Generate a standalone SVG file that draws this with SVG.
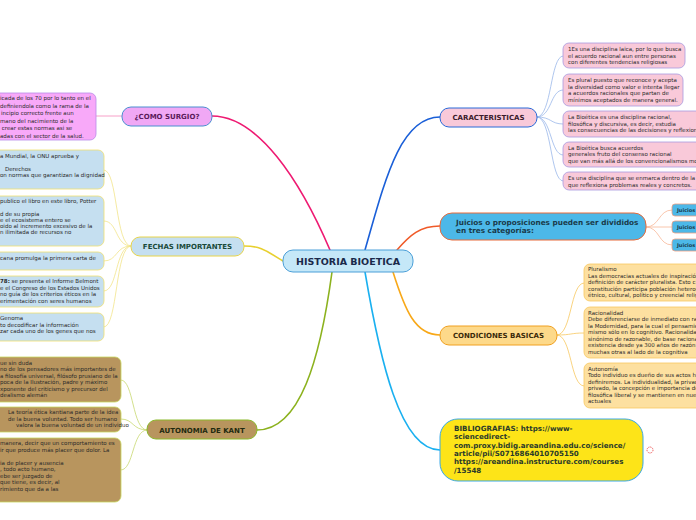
<svg xmlns="http://www.w3.org/2000/svg" width="696" height="520" viewBox="0 0 696 520">
<style>
text{font-family:"DejaVu Sans","Liberation Sans",sans-serif;}
.lt{font-size:5.5px;fill:#2a2a2a;}
.nb{font-weight:bold;font-size:7px;}
.c{fill:none;stroke-linecap:round;}
</style>
<rect x="0" y="0" width="696" height="520" fill="#ffffff"/>
<g id="connectors">
<path class="c" d="M212,116 C258,116 300,180 330,250" stroke="#ee1a72" stroke-width="1.6"/>
<path class="c" d="M365,250 C385,180 400,117 440,117" stroke="#1a5fd8" stroke-width="1.6"/>
<path class="c" d="M397,250 C410,235 420,226 440,226" stroke="#f05a28" stroke-width="1.6"/>
<path class="c" d="M283,261 C265,250 260,246 244,246" stroke="#e8d030" stroke-width="1.6"/>
<path class="c" d="M332,272 C320,360 300,430 257,430" stroke="#8cb21e" stroke-width="1.6"/>
<path class="c" d="M365,272 C380,360 400,450 440,450" stroke="#1ab0f0" stroke-width="1.6"/>
<path class="c" d="M393,272 C405,310 415,335 440,335" stroke="#f8a818" stroke-width="1.6"/>
<path class="c" d="M96,116 L122,116" stroke="#f7a0c8" stroke-width="1"/>
<g stroke="#f3e48a" stroke-width="0.8">
<path class="c" d="M131,246 C115,246 118,170 104,170"/>
<path class="c" d="M131,246 C115,246 118,221 104,221"/>
<path class="c" d="M131,246 C115,246 118,261 104,261"/>
<path class="c" d="M131,246 C115,246 118,291 104,291"/>
<path class="c" d="M131,246 C115,246 118,327 104,327"/>
</g>
<g stroke="#c8d870" stroke-width="0.8">
<path class="c" d="M147,430 C132,430 134,380 121,380"/>
<path class="c" d="M147,430 C132,430 134,419 121,419"/>
<path class="c" d="M147,430 C132,430 134,470 121,470"/>
</g>
<g stroke="#9ab8ea" stroke-width="0.8">
<path class="c" d="M537,117 C552,117 550,56 563,56"/>
<path class="c" d="M537,117 C552,117 550,90 563,90"/>
<path class="c" d="M537,117 C552,117 550,124 563,124"/>
<path class="c" d="M537,117 C552,117 550,155 563,155"/>
<path class="c" d="M537,117 C552,117 550,181 563,181"/>
</g>
<g stroke="#f8b898" stroke-width="0.8">
<path class="c" d="M646,227 C660,227 658,210 672,210"/>
<path class="c" d="M646,227 L672,227"/>
<path class="c" d="M646,227 C660,227 658,245 672,245"/>
</g>
<g stroke="#f8c860" stroke-width="0.8">
<path class="c" d="M557,335 C572,335 570,283 584,283"/>
<path class="c" d="M557,335 C572,335 570,333 584,333"/>
<path class="c" d="M557,335 C572,335 570,386 584,386"/>
</g>
</g>
<g id="central">
<rect x="283" y="250" width="130" height="22" rx="10" fill="#c5e8f8" stroke="#4a9fd8" stroke-width="1"/>
<text x="348" y="264.5" text-anchor="middle" font-weight="bold" font-size="9.5" fill="#1a2a4a">HISTORIA BIOETICA</text>
</g>
<g id="como-surgio">
<rect x="122" y="107" width="90" height="19" rx="9" fill="#f0a8f5" stroke="#4a8fd0" stroke-width="1"/>
<text x="167" y="119" text-anchor="middle" class="nb" fill="#5a1a5a">¿COMO SURGIO?</text>
</g>
<g id="como-surgio-leaf">
<rect x="-40" y="93" width="136" height="47" rx="6" fill="#f8a9f9" stroke="#b88ae8" stroke-width="0.8"/>
<text class="lt"><tspan x="0" y="100">icada de los 70 por lo tanto en el</tspan><tspan x="0" y="107.5">definiendola como la rama de la</tspan><tspan x="1" y="115">incipio correcto frente aun</tspan><tspan x="0" y="122.5">mano del nacimiento de la</tspan><tspan x="0" y="130"> crear estas normas asi se</tspan><tspan x="0" y="137.5">adas con el sector de la salud.</tspan></text>
</g>
<g id="fechas">
<rect x="131" y="237" width="113" height="19" rx="9" fill="#c5dff0" stroke="#e8d44a" stroke-width="1"/>
<text x="187.5" y="249" text-anchor="middle" class="nb" fill="#1a4a3a">FECHAS IMPORTANTES</text>
</g>
<g id="fechas-1">
<rect x="-40" y="150" width="144" height="39" rx="6" fill="#c5dff0" stroke="#f0e070" stroke-width="0.8"/>
<text class="lt"><tspan x="0" y="157.5">a Mundial, la ONU aprueba y</tspan><tspan x="5" y="170.5">Derechos</tspan><tspan x="0" y="177">on normas que garantizan la dignidad</tspan></text>
</g>
<g id="fechas-2">
<rect x="-40" y="196" width="144" height="50" rx="6" fill="#c5dff0" stroke="#f0e070" stroke-width="0.8"/>
<text class="lt"><tspan x="0" y="203">publico el libro en este libro, Potter</tspan><tspan x="0" y="215.5">d de su propia</tspan><tspan x="0" y="221.5">e el ecosistema entero se</tspan><tspan x="0" y="227.5">oido al incremento excesivo de la</tspan><tspan x="0" y="233.5">n ilimitada de recursos no</tspan></text>
</g>
<g id="fechas-3">
<rect x="-40" y="252" width="144" height="18" rx="6" fill="#c5dff0" stroke="#f0e070" stroke-width="0.8"/>
<text class="lt"><tspan x="0" y="260">cana promulga la primera carta de</tspan></text>
</g>
<g id="fechas-4">
<rect x="-40" y="276" width="144" height="31" rx="6" fill="#c5dff0" stroke="#f0e070" stroke-width="0.8"/>
<text class="lt"><tspan x="0" y="283" font-weight="bold">78:</tspan><tspan> se presenta el Informe Belmont</tspan><tspan x="0" y="289.5">e el Congreso de los Estados Unidos</tspan><tspan x="0" y="296">no guía de los criterios éticos en la</tspan><tspan x="0" y="302.5">erimentación con seres humanos</tspan></text>
</g>
<g id="fechas-5">
<rect x="-40" y="313" width="144" height="28" rx="6" fill="#c5dff0" stroke="#f0e070" stroke-width="0.8"/>
<text class="lt"><tspan x="0" y="320">Genoma</tspan><tspan x="0" y="326.5">to decodificar la información</tspan><tspan x="0" y="333">zar cada uno de los genes que nos</tspan></text>
</g>
<g id="kant">
<rect x="147" y="420" width="110" height="19" rx="9" fill="#b8955e" stroke="#8bb82a" stroke-width="1"/>
<text x="202" y="432.5" text-anchor="middle" class="nb" fill="#1f2a10">AUTONOMIA DE KANT</text>
</g>
<g id="kant-1">
<rect x="-40" y="357" width="161" height="45" rx="6" fill="#b8955e" stroke="#c8d860" stroke-width="0.8"/>
<text class="lt" fill="#2a1a0a"><tspan x="0" y="364.5">ue sin duda</tspan><tspan x="0" y="371">no de los pensadores más importantes de</tspan><tspan x="0" y="377.5">a filosofía universal, filósofo prusiano de la</tspan><tspan x="0" y="384">poca de la Ilustración, padre y máximo</tspan><tspan x="0" y="390.5">xponente del criticismo y precursor del</tspan><tspan x="0" y="397">dealismo alemán</tspan></text>
</g>
<g id="kant-2">
<rect x="-40" y="407" width="161" height="25" rx="6" fill="#b8955e" stroke="#c8d860" stroke-width="0.8"/>
<text class="lt" fill="#2a1a0a"><tspan x="8" y="414">La teoría ética kantiana parte de la idea</tspan><tspan x="8" y="420.5">de la buena voluntad. Todo ser humano</tspan><tspan x="16" y="427">valora la buena voluntad de un individuo</tspan></text>
</g>
<g id="kant-3">
<rect x="-40" y="438" width="161" height="64" rx="6" fill="#b8955e" stroke="#c8d860" stroke-width="0.8"/>
<text class="lt" fill="#2a1a0a"><tspan x="0" y="445">manera, decir que un comportamiento es</tspan><tspan x="0" y="451.5">ir que produce más placer que dolor. La</tspan><tspan x="0" y="464.5">ia de placer y ausencia</tspan><tspan x="0" y="471">, todo acto humano,</tspan><tspan x="0" y="477.5">ebe ser juzgado de</tspan><tspan x="0" y="484">que tiene, es decir, al</tspan><tspan x="0" y="490.5">rimiento que da a las</tspan></text>
</g>
<g id="caracteristicas">
<rect x="440" y="108" width="97" height="19" rx="9" fill="#f9c9d9" stroke="#2a6ad8" stroke-width="1"/>
<text x="488.5" y="120" text-anchor="middle" class="nb" fill="#3a1a2a">CARACTERISTICAS</text>
</g>
<g id="car-1">
<rect x="563" y="43" width="122" height="25" rx="6" fill="#f9c9d9" stroke="#a89ae0" stroke-width="0.8"/>
<text class="lt"><tspan x="568" y="51">1Es una disciplina laica, por lo que busca</tspan><tspan x="568" y="57.5">el acuerdo racional aun entre personas</tspan><tspan x="568" y="64">con diferentes tendencias religiosas</tspan></text>
</g>
<g id="car-2">
<rect x="563" y="74" width="120" height="32" rx="6" fill="#f9c9d9" stroke="#a89ae0" stroke-width="0.8"/>
<text class="lt"><tspan x="568" y="82">Es plural puesto que reconoce y acepta</tspan><tspan x="568" y="88.5">la diversidad como valor e intenta llegar</tspan><tspan x="568" y="95">a acuerdos racionales que partan de</tspan><tspan x="568" y="101.5">mínimos aceptados de manera general.</tspan></text>
</g>
<g id="car-3">
<rect x="563" y="111" width="150" height="26" rx="6" fill="#f9c9d9" stroke="#a89ae0" stroke-width="0.8"/>
<text class="lt"><tspan x="568" y="119">La Bioética es una disciplina racional,</tspan><tspan x="568" y="125.5">filosófica y discursiva, es decir, estudia</tspan><tspan x="568" y="132">las consecuencias de las decisiones y reflexion</tspan></text>
</g>
<g id="car-4">
<rect x="563" y="142" width="150" height="25" rx="6" fill="#f9c9d9" stroke="#a89ae0" stroke-width="0.8"/>
<text class="lt"><tspan x="568" y="149.5">La Bioética busca acuerdos</tspan><tspan x="568" y="156">generales fruto del consenso racional</tspan><tspan x="568" y="162.5">que van más allá de los convencionalismos mo</tspan></text>
</g>
<g id="car-5">
<rect x="563" y="172" width="150" height="18" rx="6" fill="#f9c9d9" stroke="#a89ae0" stroke-width="0.8"/>
<text class="lt"><tspan x="568" y="180">Es una disciplina que se enmarca dentro de la</tspan><tspan x="568" y="186.5">que reflexiona problemas reales y concretos.</tspan></text>
</g>
<g id="juicios">
<rect x="440" y="213" width="206" height="27" rx="12" fill="#4cb8e8" stroke="#e86a3a" stroke-width="1"/>
<text font-weight="bold" font-size="7.3" fill="#1a3a4a"><tspan x="456" y="225">Juicios o proposiciones pueden ser divididos</tspan><tspan x="456" y="233">en tres categorías:</tspan></text>
</g>
<g id="juicios-1">
<rect x="672" y="204" width="40" height="12" rx="3" fill="#4cb8e8" stroke="#f0a080" stroke-width="0.8"/>
<text x="677" y="212" font-weight="bold" font-size="5" fill="#1a3a4a">Juicios</text>
</g>
<g id="juicios-2">
<rect x="672" y="221" width="40" height="12" rx="3" fill="#4cb8e8" stroke="#f0a080" stroke-width="0.8"/>
<text x="677" y="229" font-weight="bold" font-size="5" fill="#1a3a4a">Juicios</text>
</g>
<g id="juicios-3">
<rect x="672" y="239" width="40" height="12" rx="3" fill="#4cb8e8" stroke="#f0a080" stroke-width="0.8"/>
<text x="677" y="247" font-weight="bold" font-size="5" fill="#1a3a4a">Juicios</text>
</g>
<g id="condiciones">
<rect x="440" y="326" width="117" height="19" rx="9" fill="#fdd98a" stroke="#f0a020" stroke-width="1"/>
<text x="498.5" y="338" text-anchor="middle" class="nb" fill="#3a2a0a">CONDICIONES BASICAS</text>
</g>
<g id="cond-1">
<rect x="584" y="264" width="130" height="37" rx="6" fill="#fde0a0" stroke="#f8c860" stroke-width="0.8"/>
<text class="lt" fill="#3a2a1a"><tspan x="588" y="271">Pluralismo</tspan><tspan x="588" y="277.5">Las democracias actuales de inspiración</tspan><tspan x="588" y="284">definición de carácter pluralista. Esto c</tspan><tspan x="588" y="290.5">constitución participa población heterog</tspan><tspan x="588" y="297">étnico, cultural, político y creencial relig</tspan></text>
</g>
<g id="cond-2">
<rect x="584" y="307" width="130" height="51" rx="6" fill="#fde0a0" stroke="#f8c860" stroke-width="0.8"/>
<text class="lt" fill="#3a2a1a"><tspan x="588" y="314.5">Racionalidad</tspan><tspan x="588" y="321">Debe diferenciarse de inmediato con ra</tspan><tspan x="588" y="327.5">la Modernidad, para la cual el pensamie</tspan><tspan x="588" y="334">mismo sólo en lo cognitivo. Racionalida</tspan><tspan x="588" y="340.5">sinónimo de razonable, de base racional</tspan><tspan x="588" y="347">existencia desde ya 300 años de razón</tspan><tspan x="588" y="353.5">muchas otras al lado de la cognitiva</tspan></text>
</g>
<g id="cond-3">
<rect x="584" y="363" width="130" height="45" rx="6" fill="#fde0a0" stroke="#f8c860" stroke-width="0.8"/>
<text class="lt" fill="#3a2a1a"><tspan x="588" y="370.5">Autonomía</tspan><tspan x="588" y="377">Todo individuo es dueño de sus actos h</tspan><tspan x="588" y="383.5">definiremos. La individualidad, la privac</tspan><tspan x="588" y="390">privado, la concepción e importancia de</tspan><tspan x="588" y="396.5">filosófica liberal y se mantienen en nue</tspan><tspan x="588" y="403">actuales</tspan></text>
</g>
<g id="bibliografias">
<rect x="440" y="419" width="203" height="62" rx="18" fill="#fde418" stroke="#38a8e8" stroke-width="1"/>
<text font-weight="bold" font-size="7.1" fill="#2a3a2a"><tspan x="454" y="431">BIBLIOGRAFIAS: https://www-</tspan><tspan x="454" y="439.3">sciencedirect-</tspan><tspan x="454" y="447.6">com.proxy.bidig.areandina.edu.co/science/</tspan><tspan x="454" y="455.9">article/pii/S0716864010705150</tspan><tspan x="454" y="464.2">https://areandina.instructure.com/courses</tspan><tspan x="454" y="472.5">/15548</tspan></text>
<circle cx="650" cy="450" r="3" fill="none" stroke="#e83030" stroke-width="0.8" stroke-dasharray="1.2,0.8"/>
</g>
</svg>
